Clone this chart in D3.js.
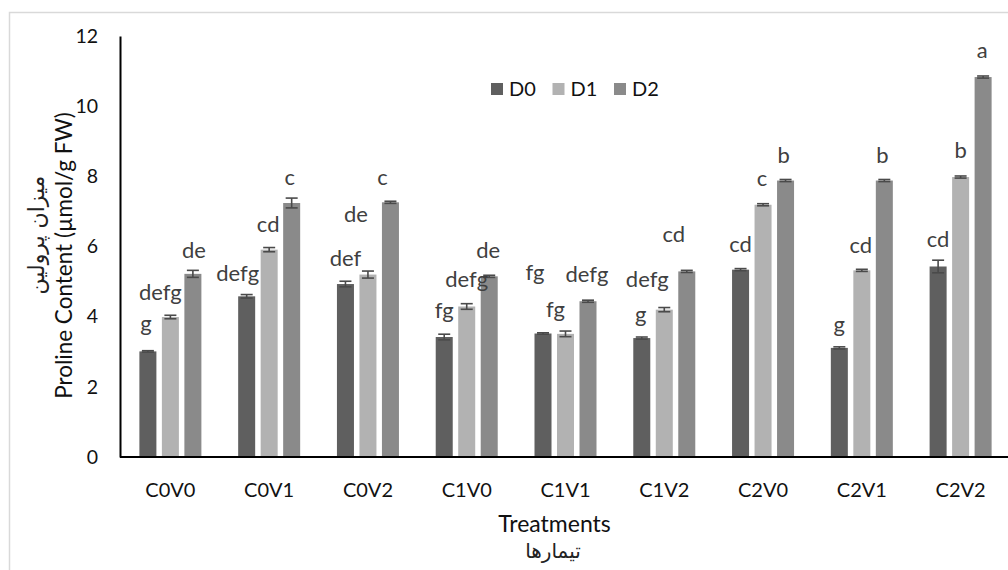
<!DOCTYPE html>
<html><head><meta charset="utf-8">
<script src="https://cdn.jsdelivr.net/npm/d3@7"></script>
<style>
html,body{margin:0;padding:0;background:#fff;}
svg{display:block;}
</style>
</head><body>
<svg id="chart" width="1008" height="570"></svg>
<script>
const categories = ["C0V0","C0V1","C0V2","C1V0","C1V1","C1V2","C2V0","C2V1","C2V2"];
const seriesNames = ["D0","D1","D2"];
const valuesD0 = [3.01, 4.58, 4.93, 3.42, 3.52, 3.39, 5.34, 3.11, 5.43];
const valuesD1 = [3.99, 5.91, 5.20, 4.29, 3.51, 4.20, 7.19, 5.32, 7.98];
const valuesD2 = [5.22, 7.24, 7.26, 5.15, 4.44, 5.29, 7.88, 7.88, 10.83];
const errorsD0 = [0.02, 0.05, 0.08, 0.08, 0.02, 0.03, 0.03, 0.03, 0.18];
const errorsD1 = [0.05, 0.06, 0.10, 0.08, 0.08, 0.06, 0.03, 0.03, 0.03];
const errorsD2 = [0.10, 0.14, 0.03, 0.03, 0.03, 0.03, 0.03, 0.03, 0.03];
const lettersD0 = ["g","defg","def","fg","fg","g","cd","g","cd"];
const lettersD1 = ["defg","cd","de","defg","fg","defg","c","cd","b"];
const lettersD2 = ["de","c","c","de","defg","cd","b","b","a"];
const yTicks = [0, 2, 4, 6, 8, 10, 12];
const yTitle = "Proline Content (\u00b5mol/g FW)";
const yTitleFa = "میزان پرولین";
const xTitle = "Treatments";
const xTitleFa = "تیمارها";

// layout-only nudges for the significance letters: [dx px, px above bar top]
const nudgeD0 = [[-2,20],[-9,15],[0,18],[0,19],[-8,54],[-1,16],[0,18],[0,16],[0,19]];
const nudgeD1 = [[-10,17],[-1,18],[-12,53],[0,19],[-10,17],[-17,23],[-1,19],[-1,17],[0,19]];
const nudgeD2 = [[1,16],[-2,18],[-8,17],[-1,18],[-1,19],[-13,29],[-2,18],[-2,18],[-1,19]];

const colors = {D0:"#5f5f5f", D1:"#b2b2b2", D2:"#8a8a8a"};
const seriesVals = {D0:valuesD0, D1:valuesD1, D2:valuesD2};
const seriesErr = {D0:errorsD0, D1:errorsD1, D2:errorsD2};
const seriesLet = {D0:lettersD0, D1:lettersD1, D2:lettersD2};
const seriesNudge = {D0:nudgeD0, D1:nudgeD1, D2:nudgeD2};

const FONT = "Lato, 'Open Sans', sans-serif";
const FA_FONT = "'DejaVu Sans', sans-serif";

const svg = d3.select("#chart");

// chart border
svg.append("rect").attr("x",9.5).attr("y",12.5).attr("width",1100).attr("height",600)
  .attr("fill","none").attr("stroke","#d9d9d9").attr("stroke-width",1.5);

const y = d3.scaleLinear().domain([0,12]).range([457,36]);
const x0 = d3.scaleBand().domain(categories).range([121,1010]).paddingInner(0).paddingOuter(0);
const x1 = d3.scaleBand().domain(seriesNames).range([-31,31]).paddingInner(0.244).paddingOuter(0);

const rows = [];
seriesNames.forEach(s => {
  categories.forEach((c,i) => {
    rows.push({s, c, v:seriesVals[s][i], e:seriesErr[s][i], l:seriesLet[s][i], n:seriesNudge[s][i]});
  });
});
const cx = d => x0(d.c) + x0.bandwidth()/2 + x1(d.s) + x1.bandwidth()/2;

// bars
svg.append("g").selectAll("rect").data(rows).join("rect")
  .attr("x", d => cx(d) - x1.bandwidth()/2)
  .attr("y", d => y(d.v))
  .attr("width", x1.bandwidth())
  .attr("height", d => y(0) - y(d.v))
  .attr("fill", d => colors[d.s]);

// error bars
const eg = svg.append("g").attr("stroke","#4a4a4a").attr("stroke-width",1.6).attr("fill","none");
eg.selectAll("line.v").data(rows).join("line").attr("class","v")
  .attr("x1", cx).attr("x2", cx)
  .attr("y1", d => y(d.v + d.e)).attr("y2", d => y(d.v - d.e));
eg.selectAll("line.t").data(rows).join("line").attr("class","t")
  .attr("x1", d => cx(d)-6).attr("x2", d => cx(d)+6)
  .attr("y1", d => y(d.v + d.e)).attr("y2", d => y(d.v + d.e));
eg.selectAll("line.b").data(rows).join("line").attr("class","b")
  .attr("x1", d => cx(d)-6).attr("x2", d => cx(d)+6)
  .attr("y1", d => y(d.v - d.e)).attr("y2", d => y(d.v - d.e));

// letters
svg.append("g").selectAll("text").data(rows).join("text")
  .attr("x", d => cx(d) + d.n[0])
  .attr("y", d => y(d.v) - d.n[1])
  .attr("text-anchor","middle")
  .attr("font-family", FONT).attr("font-size", 22)
  .attr("fill","#404040")
  .text(d => d.l);

// y axis
const yAxis = d3.axisLeft(y).tickValues(yTicks).tickSize(0).tickPadding(22).tickFormat(d3.format("d"));
const gy = svg.append("g").attr("transform","translate(120,0)").call(yAxis);
gy.select(".domain").attr("stroke","#000").attr("stroke-width",2);
gy.selectAll("text").attr("font-family",FONT).attr("font-size",19.5).attr("fill","#111");

// x axis
const xAxis = d3.axisBottom(x0).tickSize(0).tickPadding(26);
const gx = svg.append("g").attr("transform","translate(0,457)").call(xAxis);
gx.select(".domain").attr("stroke","#000").attr("stroke-width",2).attr("d","M120,0H1008");
gx.selectAll("text").attr("font-family",FONT).attr("font-size",20).attr("fill","#111");

// axis titles
svg.append("text").attr("transform","translate(72,255.5) rotate(-90)")
  .attr("text-anchor","middle").attr("font-family",FONT).attr("font-size",22.5).attr("fill","#111")
  .text(yTitle);
svg.append("text").attr("transform","translate(44,235) rotate(-90)")
  .attr("text-anchor","middle").attr("font-family",FA_FONT).attr("font-size",22).attr("fill","#222")
  .text(yTitleFa);
svg.append("text").attr("x",554.5).attr("y",532)
  .attr("text-anchor","middle").attr("font-family",FONT).attr("font-size",23).attr("fill","#111")
  .text(xTitle);
svg.append("text").attr("x",553).attr("y",558)
  .attr("text-anchor","middle").attr("font-family",FA_FONT).attr("font-size",20).attr("fill","#222")
  .text(xTitleFa);

// legend
const legendX = d3.scalePoint().domain(seriesNames).range([491,614]);
const lg = svg.append("g").selectAll("g").data(seriesNames).join("g")
  .attr("transform", s => `translate(${legendX(s)},83)`);
lg.append("rect").attr("width",12).attr("height",12).attr("fill", s => colors[s]);
lg.append("text").attr("x",18).attr("y",12.5).attr("font-family",FONT).attr("font-size",20).attr("fill","#111").text(s => s);
</script>
</body></html>
